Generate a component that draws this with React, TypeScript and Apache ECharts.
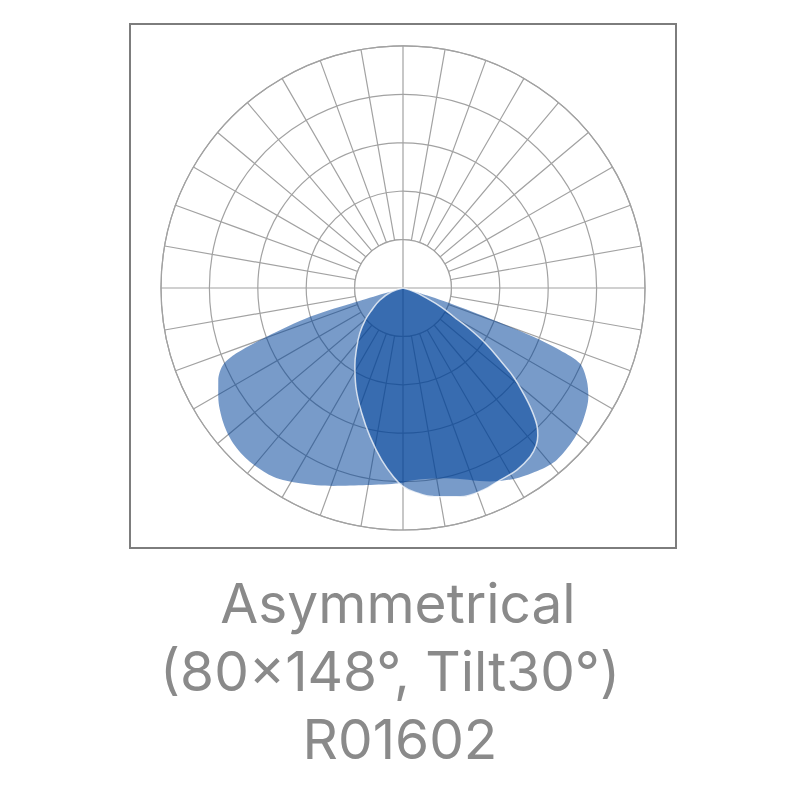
import React, { useEffect, useRef } from "react";
import * as echarts from "echarts";

// Rings of the polar grid (relative intensity, %)
const ringValues = [20, 40, 60, 80, 100];
// Wide beam (148°): angle from nadir (deg, + = right) and relative intensity
const wideAngles = [-74, -73.5, -72.8, -70.3, -68.6, -66.8, -63.5, -59.5, -53, -47.5, -41.4, -34.5, -27.8, -19.4, -10.4, -1, 3, 12.9, 24.2, 30.9, 37, 41.8, 48.3, 53.8, 59.6, 63.4, 66.9, 68.4, 69.5, 70.5, 72, 72.7, 73];
const wideValues = [0, 20, 40, 60, 74, 81, 85.3, 88.6, 92.9, 95.1, 95.7, 94.6, 91.2, 86.7, 82.8, 80.7, 79.5, 80.7, 87.7, 91.6, 94.1, 95.3, 94.3, 92.3, 88.8, 84.9, 79.5, 69.8, 57.5, 39.6, 20.4, 7.4, 0];
// Narrow beam (80°, tilt 30°)
const narrowAngles = [-72, -72, -62, -54.5, -49.5, -43.5, -37.5, -32, -25.5, -18.2, -12.5, -7.1, -2.9, 0, 3, 8.3, 15.3, 21.7, 26.8, 32, 37, 40.2, 42.4, 44.3, 46.5, 48.8, 51.2, 53.4, 56, 58.5, 60.5, 63.5, 67, 72, 72];
const narrowValues = [0, 5, 11, 16, 20.6, 26, 31.5, 37.5, 45.2, 54.5, 62.9, 71.6, 78.1, 82, 84.3, 87.1, 89.4, 89.8, 88.9, 88.7, 87.3, 85.2, 82.6, 79.2, 73.3, 66.1, 58.5, 49.9, 41.5, 32, 24, 17.5, 10, 5, 0];
// Caption lines
const captionLines = ["Asymmetrical", "(80×148°, Tilt30°)", "R01602"];

const CX = 403;
const CY = 288;
const R = 242;
const GRID = "#a2a2a2";
const FILL = "rgba(0,66,153,0.53)";

function toData(angles: number[], values: number[]) {
  return angles.map((a, i) => [values[i], (a + 360) % 360]);
}

export default function App() {
  const ref = useRef<HTMLDivElement>(null);
  useEffect(() => {
    if (!ref.current) return;
    const chart = echarts.init(ref.current, undefined, { renderer: "svg" });
    const hole = (R * ringValues[0]) / ringValues[ringValues.length - 1];
    const captionX = [398, 390, 400];
    const captionY = [603, 671, 739];
    chart.setOption({
      animation: false,
      backgroundColor: "#ffffff",
      polar: { center: [CX, CY], radius: [0, R] },
      angleAxis: {
        type: "value",
        min: 0,
        max: 360,
        interval: 10,
        startAngle: 270,
        clockwise: false,
        z: 0,
        axisLine: { show: true, lineStyle: { color: GRID, width: 1.2 } },
        axisTick: { show: false },
        axisLabel: { show: false },
        splitLine: { show: true, lineStyle: { color: GRID, width: 1.2 } },
      },
      radiusAxis: {
        type: "value",
        min: 0,
        max: 100,
        interval: 20,
        z: 0,
        axisLine: { show: false },
        axisTick: { show: false },
        axisLabel: { show: false },
        splitLine: { show: true, lineStyle: { color: GRID, width: 1.2 } },
      },
      graphic: [
        {
          type: "circle",
          z: 1,
          silent: true,
          shape: { cx: CX, cy: CY, r: hole },
          style: { fill: "#ffffff", stroke: GRID, lineWidth: 1.2 },
        },
        {
          type: "line",
          z: 1,
          silent: true,
          shape: { x1: CX - hole, y1: CY, x2: CX + hole, y2: CY },
          style: { stroke: GRID, lineWidth: 1.2 },
        },
        {
          type: "line",
          z: 1,
          silent: true,
          shape: { x1: CX, y1: CY - hole, x2: CX, y2: CY + hole },
          style: { stroke: GRID, lineWidth: 1.2 },
        },
        {
          type: "rect",
          z: 10,
          silent: true,
          shape: { x: 130, y: 24, width: 546, height: 524 },
          style: { fill: "none", stroke: "#7d7d7d", lineWidth: 2 },
        },
        ...captionLines.map((t, i) => ({
          type: "text",
          z: 10,
          silent: true,
          x: captionX[i],
          y: captionY[i],
          style: {
            text: t,
            fill: "#8a8a8a",
            font: '400 55px "Inter", "Roboto", sans-serif',
            align: "center",
            verticalAlign: "middle",
          },
        })),
      ],
      series: [
        {
          type: "line",
          coordinateSystem: "polar",
          data: toData(wideAngles, wideValues),
          symbol: "none",
          smooth: 0.3,
          z: 2,
          silent: true,
          lineStyle: { width: 0, color: "rgba(0,0,0,0)" },
          areaStyle: { color: FILL, opacity: 1 },
        },
        {
          type: "line",
          coordinateSystem: "polar",
          data: toData(narrowAngles, narrowValues),
          symbol: "none",
          smooth: 0.4,
          z: 3,
          silent: true,
          lineStyle: { width: 1.5, color: "rgba(255,255,255,0.75)" },
          areaStyle: { color: FILL, opacity: 1 },
        },
      ],
    });
    return () => chart.dispose();
  }, []);
  return (
    <div
      ref={ref}
      style={{ position: "fixed", left: 0, top: 0, width: 800, height: 800 }}
    />
  );
}
